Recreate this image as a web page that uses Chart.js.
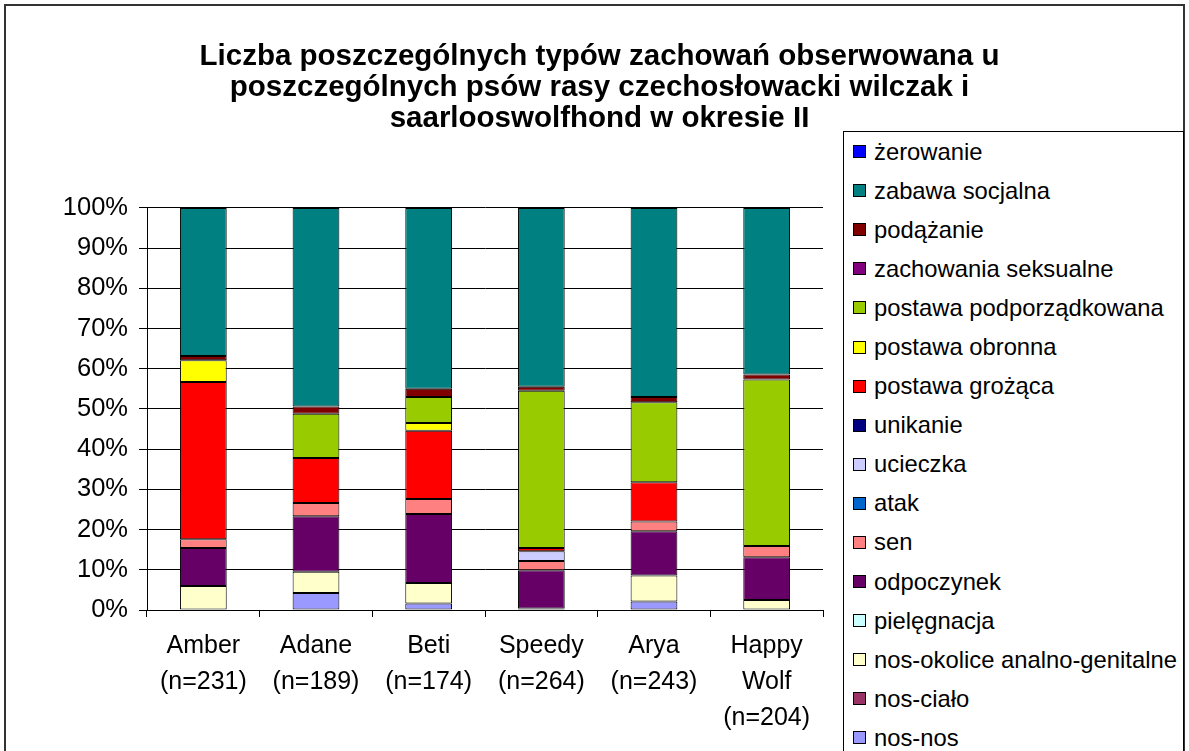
<!DOCTYPE html>
<html lang="pl">
<head>
<meta charset="utf-8">
<title>Zachowania psów - okres II</title>
<script src="https://cdn.jsdelivr.net/npm/chart.js@4.4.1/dist/chart.umd.min.js"></script>
<style>
	body { margin: 0; background: #fff; font-family: "Liberation Sans", Arial, sans-serif; }
	#wrap { position: relative; width: 1189px; height: 751px; overflow: hidden; }
	#frame { position: absolute; left: 4px; top: 4px; width: 1181px; height: 800px; border: 2px solid #333; box-sizing: border-box; }
	#chart { position: absolute; left: 0; top: 0; }
	#legend { position: absolute; left: 843px; top: 131px; width: 341px; height: 660px; border: 1px solid #000; box-sizing: border-box; background: #fff; padding-left: 9px; }
	.item { height: 39.1px; display: flex; align-items: center; font-size: 23.8px; color: #000; white-space: nowrap; }
	.box { display: inline-block; width: 11px; height: 11px; border: 1px solid #000; margin-right: 8px; flex: none; }
</style>
</head>
<body>
<div id="wrap">
	<div id="frame"></div>
	<canvas id="chart" width="1189" height="751"></canvas>
	<div id="legend"></div>
</div>
<script>
// psy (kategorie)
const dogs = [
	["Amber", "(n=231)"],
	["Adane", "(n=189)"],
	["Beti", "(n=174)"],
	["Speedy", "(n=264)"],
	["Arya", "(n=243)"],
	["Happy", "Wolf", "(n=204)"]
];

// zachowania od dołu słupka do góry
const behaviours = [
	"nos-nos", "nos-ciało", "nos-okolice analno-genitalne", "pielęgnacja",
	"odpoczynek", "sen", "atak", "ucieczka", "unikanie", "postawa grożąca",
	"postawa obronna", "postawa podporządkowana", "zachowania seksualne",
	"podążanie", "zabawa socjalna", "żerowanie"
];
const colours = [
	"#9999FF", "#993366", "#FFFFCC", "#CCFFFF",
	"#660066", "#FF8080", "#0066CC", "#CCCCFF", "#000080", "#FF0000",
	"#FFFF00", "#99CC00", "#800080",
	"#800000", "#008080", "#0000FF"
];

// udział procentowy (Amber, Adane, Beti, Speedy, Arya, Happy Wolf)
const nosNos = [0, 4.2, 1.6, 0, 2.1, 0];
const nosCialo = [0, 0, 0, 0, 0, 0];
const nosOkolice = [6.0, 5.3, 5.1, 0.4, 6.5, 2.5];
const pielegnacja = [0, 0, 0, 0, 0, 0];
const odpoczynek = [9.4, 13.8, 17.2, 9.5, 11.0, 10.6];
const sen = [2.2, 3.3, 3.7, 2.3, 2.4, 2.8];
const atak = [0, 0, 0, 0, 0, 0];
const ucieczka = [0, 0, 0, 2.4, 0, 0];
const unikanie = [0, 0, 0, 0, 0, 0];
const grozaca = [39.1, 11.2, 17.0, 0.8, 9.8, 0];
const obronna = [5.4, 0, 1.9, 0, 0, 0];
const podporzadkowana = [0, 11.0, 6.5, 39.1, 19.9, 41.4];
const seksualne = [0, 0, 0, 0, 0, 0];
const podazanie = [1.1, 1.8, 2.0, 1.0, 1.3, 1.3];
const zabawa = [36.8, 49.4, 45.0, 44.5, 47.0, 41.4];
const zerowanie = [0, 0, 0, 0, 0, 0];

const yTicks = [0, 10, 20, 30, 40, 50, 60, 70, 80, 90, 100];

const series = [nosNos, nosCialo, nosOkolice, pielegnacja, odpoczynek, sen, atak,
	ucieczka, unikanie, grozaca, obronna, podporzadkowana, seksualne, podazanie,
	zabawa, zerowanie];

const FONT = "'Liberation Sans', Arial, sans-serif";

const ctx = document.getElementById("chart").getContext("2d");
const chart = new Chart(ctx, {
	type: "bar",
	data: {
		labels: dogs,
		datasets: series.map(function (values, i) {
			return {
				label: behaviours[i],
				data: values,
				backgroundColor: colours[i],
				borderColor: "#000",
				borderWidth: 1,
				borderSkipped: false,
				categoryPercentage: 1,
				barPercentage: 0.415
			};
		})
	},
	options: {
		responsive: false,
		animation: false,
		layout: { padding: { left: 10, right: 0, top: 0, bottom: 0 } },
		plugins: {
			legend: { display: false },
			tooltip: { enabled: false },
			title: {
				display: true,
				text: [
					"Liczba poszczególnych typów zachowań obserwowana u",
					"poszczególnych psów rasy czechosłowacki wilczak i",
					"saarlooswolfhond w okresie II"
				],
				color: "#000",
				font: { family: FONT, size: 29.5, weight: "bold", lineHeight: 1.05 },
				padding: { top: 41, bottom: 74 }
			}
		},
		scales: {
			x: {
				stacked: true,
				grid: { drawOnChartArea: false, color: "#000", tickLength: 7, offset: true },
				border: { color: "#000" },
				ticks: { color: "#000", font: { family: FONT, size: 25, lineHeight: 1.44 }, padding: 11, maxRotation: 0 },
				afterFit: function (s) { s.height = 141; }
			},
			y: {
				stacked: true,
				min: 0,
				max: 100,
				afterBuildTicks: function (s) { s.ticks = yTicks.map(function (v) { return { value: v }; }); },
				grid: { color: "#000", tickLength: 8 },
				border: { color: "#000" },
				ticks: {
					color: "#000",
					font: { family: FONT, size: 25.5 },
					padding: 11,
					callback: function (v) { return v + "%"; }
				},
				afterFit: function (s) { s.width = 137; }
			},
			yRight: {
				position: "right",
				min: 0,
				max: 100,
				grid: { display: false },
				border: { display: false },
				ticks: { display: false },
				afterFit: function (s) { s.width = 366; }
			}
		}
	}
});

// legenda budowana ręcznie (od góry: ostatnia seria)
let legendHtml = "";
for (let i = behaviours.length - 1; i >= 0; i--) {
	legendHtml +=
		'<div class="item"><span class="box" style="background:' + colours[i] + ';"></span>' +
		"<span>" + behaviours[i] + "</span></div>";
}
document.getElementById("legend").innerHTML = legendHtml;
</script>
</body>
</html>
